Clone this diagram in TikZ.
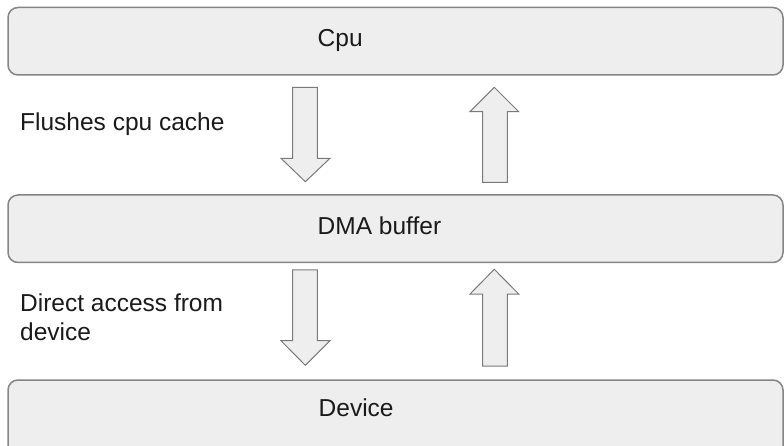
\documentclass[tikz,border=0pt]{standalone}
\usepackage{fontspec}
\setmainfont{Liberation Sans}
\definecolor{boxfill}{HTML}{EEEEEE}
\definecolor{boxline}{HTML}{858585}
\definecolor{arrline}{HTML}{7A7A7A}
\definecolor{txt}{HTML}{1A1A1A}
\begin{document}
\begin{tikzpicture}[x=1pt,y=-1pt,
  layer/.style={draw=boxline,fill=boxfill,line width=1.5pt,rounded corners=10pt},
  blockarrow/.style={draw=arrline,fill=boxfill,line width=1pt,line join=miter},
  lbl/.style={inner sep=0pt,anchor=base west,text=txt,font=\fontsize{24.5}{29}\selectfont}]
\useasboundingbox (0,0) rectangle (784,446);
% boxes
\path[layer] (8,7.5) rectangle (783,75);
\path[layer] (8,195) rectangle (783,262.5);
\path[layer] (8,380) rectangle (783,460);
\node[lbl] (cpu) at (317.5,46.7) {Cpu};
\node[lbl] (dma) at (317.5,235) {DMA buffer};
\node[lbl] (dev) at (318.5,416) {Device};
% side labels
\node[lbl] (flush) at (20,130.7) {Flushes cpu cache};
\node[lbl] (direct1) at (20,311.7) {Direct access from};
\node[lbl] (direct2) at (20,340) {device};
% arrows top pair
\draw[blockarrow] (292.7,87.3) -- (317.3,87.3) -- (317.3,158.3) -- (330,158.3) -- (305.3,181.7) -- (281,158.3) -- (292.7,158.3) -- cycle;
\draw[blockarrow] (494.3,87.3) -- (518.7,111.7) -- (507.3,111.7) -- (507.3,182.3) -- (482.7,182.3) -- (482.7,111.7) -- (470,111.7) -- cycle;
% arrows bottom pair
\draw[blockarrow] (292.7,270) -- (317.3,270) -- (317.3,340.7) -- (330,340.7) -- (305.3,365.3) -- (281,340.7) -- (292.7,340.7) -- cycle;
\draw[blockarrow] (494.3,269.3) -- (518.7,294) -- (507.3,294) -- (507.3,366) -- (482.7,366) -- (482.7,294) -- (470,294) -- cycle;
\end{tikzpicture}
\end{document}
